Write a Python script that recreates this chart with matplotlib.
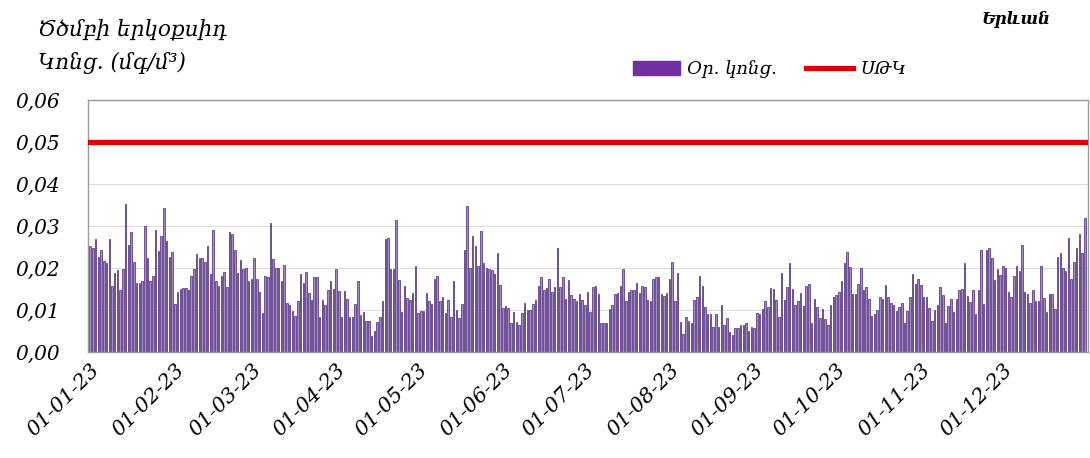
import matplotlib
matplotlib.use("Agg")
import matplotlib.pyplot as plt
import matplotlib.dates as mdates
from matplotlib.patches import Patch
from matplotlib.lines import Line2D
import pandas as pd

# daily SO2 concentration, mg/m3, Yerevan 2023
jan = [0.0252, 0.0248, 0.0268, 0.0227, 0.0244, 0.0217, 0.0211, 0.0268, 0.0156, 0.0188,
       0.0195, 0.0148, 0.0197, 0.0352, 0.0255, 0.0285, 0.0215, 0.0164, 0.0164, 0.0170,
       0.0301, 0.0225, 0.0168, 0.0182, 0.0291, 0.0240, 0.0276, 0.0342, 0.0265, 0.0227,
       0.0238]
feb = [0.0115, 0.0144, 0.0150, 0.0152, 0.0152, 0.0148, 0.0182, 0.0197, 0.0234, 0.0225,
       0.0225, 0.0215, 0.0252, 0.0186, 0.0291, 0.0168, 0.0158, 0.0180, 0.0191, 0.0154,
       0.0285, 0.0282, 0.0242, 0.0187, 0.0219, 0.0197, 0.0201, 0.0168]
mar = [0.0174, 0.0225, 0.0175, 0.0143, 0.0092, 0.0182, 0.0179, 0.0307, 0.0221, 0.0201,
       0.0200, 0.0168, 0.0208, 0.0117, 0.0111, 0.0098, 0.0085, 0.0121, 0.0186, 0.0164,
       0.0191, 0.0141, 0.0125, 0.0178, 0.0178, 0.0084, 0.0125, 0.0111, 0.0148, 0.0168,
       0.0150]
apr = [0.0197, 0.0145, 0.0084, 0.0145, 0.0127, 0.0084, 0.0084, 0.0115, 0.0170, 0.0088,
       0.0096, 0.0074, 0.0074, 0.0037, 0.0049, 0.0072, 0.0084, 0.0121, 0.0268, 0.0272,
       0.0197, 0.0197, 0.0315, 0.0171, 0.0096, 0.0158, 0.0128, 0.0125, 0.0140, 0.0205]
may = [0.0092, 0.0098, 0.0098, 0.0140, 0.0121, 0.0115, 0.0174, 0.0180, 0.0121, 0.0132,
       0.0092, 0.0125, 0.0084, 0.0168, 0.0101, 0.0080, 0.0115, 0.0242, 0.0348, 0.0201,
       0.0276, 0.0252, 0.0205, 0.0287, 0.0211, 0.0201, 0.0197, 0.0195, 0.0186, 0.0236,
       0.0160]
jun = [0.0105, 0.0110, 0.0105, 0.0068, 0.0096, 0.0072, 0.0064, 0.0092, 0.0117, 0.0101,
       0.0099, 0.0115, 0.0125, 0.0158, 0.0179, 0.0148, 0.0152, 0.0174, 0.0143, 0.0154,
       0.0247, 0.0154, 0.0179, 0.0127, 0.0171, 0.0135, 0.0127, 0.0121, 0.0139, 0.0125]
jul = [0.0111, 0.0143, 0.0096, 0.0154, 0.0158, 0.0139, 0.0068, 0.0070, 0.0070, 0.0103,
       0.0111, 0.0139, 0.0140, 0.0158, 0.0197, 0.0121, 0.0143, 0.0148, 0.0148, 0.0164,
       0.0140, 0.0158, 0.0154, 0.0125, 0.0121, 0.0174, 0.0178, 0.0178, 0.0139, 0.0133,
       0.0141]
aug = [0.0174, 0.0215, 0.0121, 0.0188, 0.0072, 0.0043, 0.0084, 0.0074, 0.0068, 0.0125,
       0.0131, 0.0180, 0.0158, 0.0107, 0.0090, 0.0090, 0.0060, 0.0090, 0.0060, 0.0111,
       0.0064, 0.0081, 0.0047, 0.0041, 0.0058, 0.0058, 0.0064, 0.0064, 0.0068, 0.0051,
       0.0060]
sep = [0.0058, 0.0092, 0.0090, 0.0103, 0.0121, 0.0106, 0.0152, 0.0149, 0.0125, 0.0084,
       0.0188, 0.0125, 0.0154, 0.0213, 0.0150, 0.0111, 0.0121, 0.0141, 0.0109, 0.0158,
       0.0161, 0.0068, 0.0127, 0.0107, 0.0080, 0.0102, 0.0078, 0.0064, 0.0111, 0.0131]
oct_ = [0.0135, 0.0144, 0.0170, 0.0211, 0.0238, 0.0203, 0.0139, 0.0137, 0.0162, 0.0200,
        0.0148, 0.0154, 0.0127, 0.0085, 0.0090, 0.0101, 0.0131, 0.0127, 0.0160, 0.0131,
        0.0117, 0.0111, 0.0098, 0.0107, 0.0117, 0.0070, 0.0098, 0.0132, 0.0186, 0.0161,
        0.0174]
nov = [0.0160, 0.0131, 0.0131, 0.0105, 0.0074, 0.0101, 0.0111, 0.0154, 0.0135, 0.0070,
       0.0109, 0.0127, 0.0096, 0.0127, 0.0148, 0.0150, 0.0211, 0.0133, 0.0119, 0.0148,
       0.0090, 0.0148, 0.0244, 0.0115, 0.0244, 0.0247, 0.0225, 0.0171, 0.0197, 0.0183]
dec = [0.0205, 0.0201, 0.0144, 0.0132, 0.0182, 0.0205, 0.0192, 0.0255, 0.0144, 0.0137,
       0.0117, 0.0148, 0.0121, 0.0121, 0.0205, 0.0128, 0.0096, 0.0139, 0.0137, 0.0103,
       0.0227, 0.0235, 0.0200, 0.0192, 0.0272, 0.0174, 0.0215, 0.0248, 0.0281, 0.0236,
       0.0319]

limit_value = 0.05  # ՍԹԿ
y_ticks = [0.00, 0.01, 0.02, 0.03, 0.04, 0.05, 0.06]

values = jan + feb + mar + apr + may + jun + jul + aug + sep + oct_ + nov + dec
days = pd.date_range("2023-01-01", periods=len(values), freq="D")
month_starts = pd.date_range("2023-01-01", "2023-12-01", freq="MS")

FONT = ["DejaVu Serif", "DejaVu Sans"]
plt.rcParams["font.family"] = FONT

fig = plt.figure(figsize=(10.9, 4.58), dpi=100)
ax = fig.add_axes([0.0807, 0.2314, 0.9173, 0.5503])

ax.bar(days, values, width=0.55, color="#a58bc8", edgecolor="#5e3f86", linewidth=0.6, zorder=2)
ax.axhline(limit_value, color="#e00000", linewidth=3.8, zorder=3)

ax.set_ylim(0, 0.06)
ax.set_yticks(y_ticks)
ax.set_yticklabels([f"{v:.2f}".replace(".", ",") for v in y_ticks],
                   fontsize=14.5, style="italic")
ax.yaxis.grid(True, color="#dddddd", linewidth=0.8, zorder=0)
ax.set_axisbelow(True)

ax.set_xlim(days[0] - pd.Timedelta(hours=19), days[-1] + pd.Timedelta(hours=26))
ax.set_xticks(month_starts)
ax.xaxis.set_major_formatter(mdates.DateFormatter("%d-%m-%y"))
for lab in ax.get_xticklabels():
    lab.set_rotation(45)
    lab.set_ha("right")
    lab.set_rotation_mode("anchor")
    lab.set_fontsize(15)
    lab.set_style("italic")
ax.tick_params(axis="x", length=0, pad=6)
ax.tick_params(axis="y", length=0, pad=20)

for s in ax.spines.values():
    s.set_color("#9a9a9a")
    s.set_linewidth(1.0)

fig.text(0.035, 0.935, "Ծծմբի երկօքսիդ", fontsize=15.5, style="italic", va="center")
fig.text(0.035, 0.862, "Կոնց. (մգ/մ³)", fontsize=15.5, style="italic", va="center")
fig.text(0.900, 0.958, "Երևան", fontsize=12, style="italic", weight="bold",
         ha="left", va="center")

handles = [Patch(facecolor="#7030a0", edgecolor="#7030a0"),
           Line2D([0], [0], color="#e00000", linewidth=3.8)]
fig.legend(handles, ["Օր. կոնց.", "ՍԹԿ"], loc="center", bbox_to_anchor=(0.706, 0.849),
           ncol=2, frameon=False, prop={"size": 13, "style": "italic"},
           handlelength=2.6, handleheight=0.8, handletextpad=0.4, columnspacing=1.6)

fig.savefig("out.png", dpi=100)
